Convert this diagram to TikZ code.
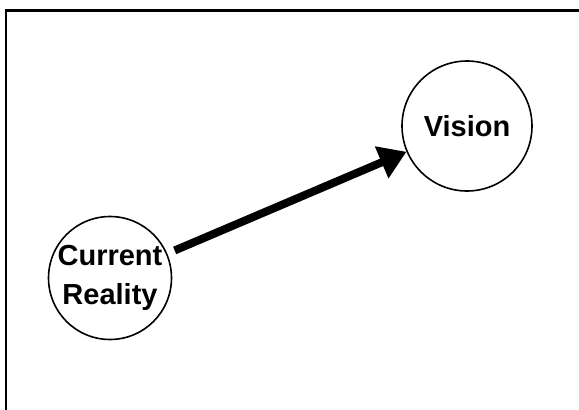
\documentclass[tikz,border=0pt]{standalone}
\usepackage{fontspec}
\setmainfont{Liberation Sans}
\usepackage{tikz}
\usetikzlibrary{arrows.meta}

\tikzset{
	state/.style={draw,circle,line width=1.6pt,inner sep=0pt,align=center,
		font=\fontsize{29}{39}\selectfont\bfseries},
	frame/.style={line width=2.4pt}
}

\begin{document}
\begin{tikzpicture}[x=1pt,y=-1pt]
			\useasboundingbox (0,0) rectangle (579,410);
			\draw[frame] (6,410) -- (6,10.5) -- (579,10.5);
			\node[state,minimum size=120pt] (cr) at (110,278) {Current\\Reality};
			\node[state,minimum size=130pt] (vis) at (467,126) {Vision};
			\path[line width=8pt,-{Triangle[length=27pt,width=33pt]},shorten <=8pt]
			(cr) edge (vis);
		\end{tikzpicture}
\end{document}
